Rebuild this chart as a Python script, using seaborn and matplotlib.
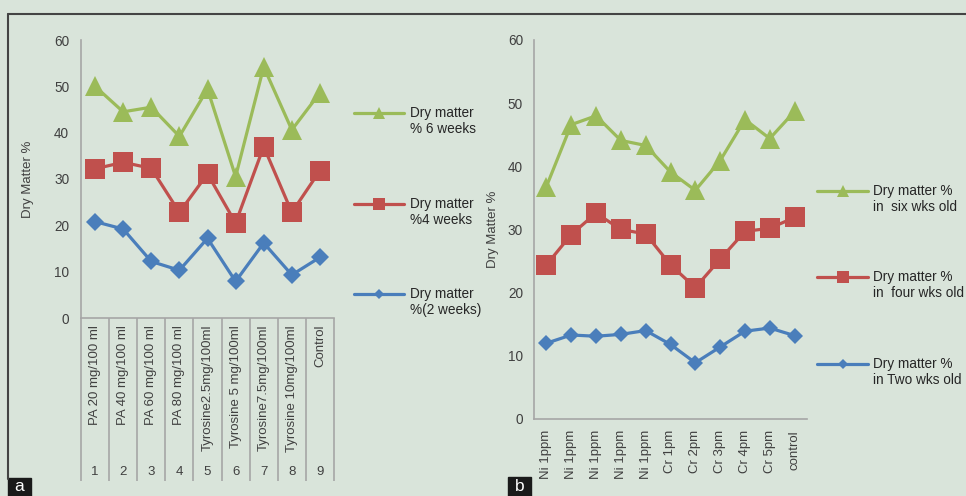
import matplotlib
matplotlib.use("Agg")
import matplotlib.pyplot as plt
import matplotlib.transforms as mtransforms
from matplotlib.lines import Line2D
from matplotlib.patches import Rectangle
import seaborn as sns
import pandas as pd

# ---------------- data ----------------
left_categories = ["PA 20 mg/100 ml", "PA 40 mg/100 ml", "PA 60 mg/100 ml", "PA 80 mg/100 ml",
                   "Tyrosine2.5mg/100ml", "Tyrosine 5 mg/100ml", "Tyrosine7.5mg/100ml",
                   "Tyrosine 10mg/100ml", "Control"]
left_numbers = ["1", "2", "3", "4", "5", "6", "7", "8", "9"]
left_6wk = [50.0, 44.5, 45.5, 39.2, 49.4, 30.5, 54.2, 40.6, 48.6]
left_4wk = [32.2, 33.6, 32.3, 22.8, 31.1, 20.5, 37.0, 22.8, 31.8]
left_2wk = [20.8, 19.2, 12.2, 10.3, 17.2, 7.9, 16.2, 9.3, 13.1]
left_labels = ["Dry matter\n% 6 weeks", "Dry matter\n%4 weeks", "Dry matter\n%(2 weeks)"]

right_categories = ["Ni 1ppm", "Ni 1ppm", "Ni 1ppm", "Ni 1ppm", "Ni 1ppm",
                    "Cr 1pm", "Cr 2pm", "Cr 3pm", "Cr 4pm", "Cr 5pm", "control"]
right_6wk = [36.8, 46.6, 48.0, 44.1, 43.3, 39.1, 36.2, 40.9, 47.4, 44.4, 48.7]
right_4wk = [24.4, 29.2, 32.6, 30.0, 29.3, 24.4, 20.8, 25.3, 29.7, 30.2, 31.9]
right_2wk = [12.0, 13.3, 13.1, 13.4, 14.0, 11.8, 8.9, 11.4, 13.9, 14.4, 13.2]
right_labels = ["Dry matter %\nin  six wks old", "Dry matter %\nin  four wks old",
                "Dry matter %\nin Two wks old"]

y_ticks = [0, 10, 20, 30, 40, 50, 60]

# ---------------- style ----------------
BG = "#d9e4da"
GREEN, RED, BLUE = "#9bbb59", "#c0504d", "#4a7ebb"
AXC = "#a6a6a6"
TXT = "#404040"
sns.set_theme(style="white")
plt.rcParams["font.family"] = ["Liberation Sans", "DejaVu Sans"]
plt.rcParams["font.size"] = 9.5

W, H = 966, 496
fig = plt.figure(figsize=(W / 100, H / 100), dpi=100, facecolor=BG)


def fx(x):
    return x / W


def fy(y):
    return 1 - y / H


def style_axes(ax, ncat, cats, pad_y, pad_x):
    ax.set_facecolor(BG)
    ax.patch.set_alpha(0)
    for s in ["top", "right"]:
        ax.spines[s].set_visible(False)
    for s in ["left", "bottom"]:
        ax.spines[s].set_color(AXC)
        ax.spines[s].set_linewidth(1.2)
    ax.set_ylim(0, 60)
    ax.set_yticks(y_ticks)
    ax.set_xlim(-0.5, ncat - 0.5)
    ax.set_xticks(range(ncat))
    ax.set_xticklabels(cats, rotation=90, va="top", ha="center")
    ax.tick_params(axis="y", length=0, pad=pad_y, colors=TXT, labelsize=9.8)
    ax.tick_params(axis="x", length=0, pad=pad_x, colors=TXT, labelsize=9.5)
    ax.set_xlabel("")


# ---------------- left panel ----------------
axL = fig.add_axes([fx(81), fy(318), fx(334) - fx(81), (318 - 40) / H])
dfL = pd.DataFrame({"pos": range(len(left_categories)), "w6": left_6wk, "w4": left_4wk, "w2": left_2wk})
sns.lineplot(data=dfL, x="pos", y="w6", ax=axL, color=GREEN, marker="^", markersize=14.5,
             markeredgewidth=0, linewidth=2.3, sort=False)
sns.lineplot(data=dfL, x="pos", y="w4", ax=axL, color=RED, marker="s", markersize=15,
             markeredgewidth=0, linewidth=2.3, sort=False)
sns.lineplot(data=dfL, x="pos", y="w2", ax=axL, color=BLUE, marker="D", markersize=9.5,
             markeredgewidth=0, linewidth=2.3, sort=False)
style_axes(axL, len(left_categories), left_categories, 8.5, 5)
axL.set_ylabel("Dry Matter %", color=TXT, fontsize=9.5)
axL.yaxis.set_label_coords((28.5 - 81) / 253, 0.5)
axL.yaxis.label.set_va("center")

# category table below the left axis
trL = mtransforms.blended_transform_factory(axL.transData, axL.transAxes)
bottom_ax = (318 - 481) / 278
for b in range(len(left_categories) + 1):
    axL.plot([b - 0.5, b - 0.5], [0, bottom_ax], transform=trL, color=AXC, lw=1.2,
             clip_on=False, solid_capstyle="butt")
for i, n in enumerate(left_numbers):
    axL.text(i, (318 - 472) / 278, n, transform=trL, ha="center", va="center",
             color=TXT, fontsize=9.5)

# ---------------- right panel ----------------
axR = fig.add_axes([fx(534), fy(419), fx(807) - fx(534), (419 - 40) / H])
dfR = pd.DataFrame({"pos": range(len(right_categories)), "w6": right_6wk, "w4": right_4wk, "w2": right_2wk})
sns.lineplot(data=dfR, x="pos", y="w6", ax=axR, color=GREEN, marker="^", markersize=15,
             markeredgewidth=0, linewidth=2.3, sort=False)
sns.lineplot(data=dfR, x="pos", y="w4", ax=axR, color=RED, marker="s", markersize=15,
             markeredgewidth=0, linewidth=2.3, sort=False)
sns.lineplot(data=dfR, x="pos", y="w2", ax=axR, color=BLUE, marker="D", markersize=8,
             markeredgewidth=0, linewidth=2.3, sort=False)
style_axes(axR, len(right_categories), right_categories, 8, 8)
axR.set_ylabel("Dry Matter %", color=TXT, fontsize=9.5)
axR.yaxis.set_label_coords((493 - 534) / 273, 0.5)
axR.yaxis.label.set_va("center")


# ---------------- legends (drawn manually) ----------------
def legend_entry(x0, x1, y, color, marker, ms, label, tx):
    fig.add_artist(Line2D([fx(x0), fx(x1)], [fy(y), fy(y)], color=color, lw=2.3,
                          transform=fig.transFigure))
    fig.add_artist(Line2D([fx((x0 + x1) / 2)], [fy(y)], color=color, marker=marker,
                          markersize=ms, markeredgewidth=0, transform=fig.transFigure))
    l1, l2 = label.split("\n")
    fig.text(fx(tx), fy(y), l1, ha="left", va="center", color="#262626", fontsize=9.8)
    fig.text(fx(tx), fy(y + 16), l2, ha="left", va="center", color="#262626", fontsize=9.8)


legend_entry(354, 404, 113, GREEN, "^", 8.5, left_labels[0], 410)
legend_entry(354, 404, 204, RED, "s", 8, left_labels[1], 410)
legend_entry(354, 404, 294, BLUE, "D", 4.8, left_labels[2], 410)

legend_entry(817, 868, 191, GREEN, "^", 8.5, right_labels[0], 873)
legend_entry(817, 868, 277, RED, "s", 8.5, right_labels[1], 873)
legend_entry(817, 868, 364, BLUE, "D", 4.8, right_labels[2], 873)

# ---------------- frame and panel labels ----------------
fig.add_artist(Line2D([fx(8), 1], [fy(14), fy(14)], color="#444444", lw=1.5,
                      transform=fig.transFigure))
fig.add_artist(Line2D([fx(8), fx(8)], [fy(14), fy(479)], color="#444444", lw=1.5,
                      transform=fig.transFigure))
fig.add_artist(Rectangle((fx(8), 0), fx(31) - fx(8), 18 / H, color="#1a1a1a",
                         transform=fig.transFigure))
fig.text(fx(19.5), fy(486.5), "a", color="white", ha="center", va="center", fontsize=12.5)
fig.add_artist(Rectangle((fx(508), 0), fx(531) - fx(508), 19 / H, color="#1a1a1a",
                         transform=fig.transFigure))
fig.text(fx(519.5), fy(486.5), "b", color="white", ha="center", va="center", fontsize=12.5)

fig.savefig("out.png", dpi=100, facecolor=BG)
